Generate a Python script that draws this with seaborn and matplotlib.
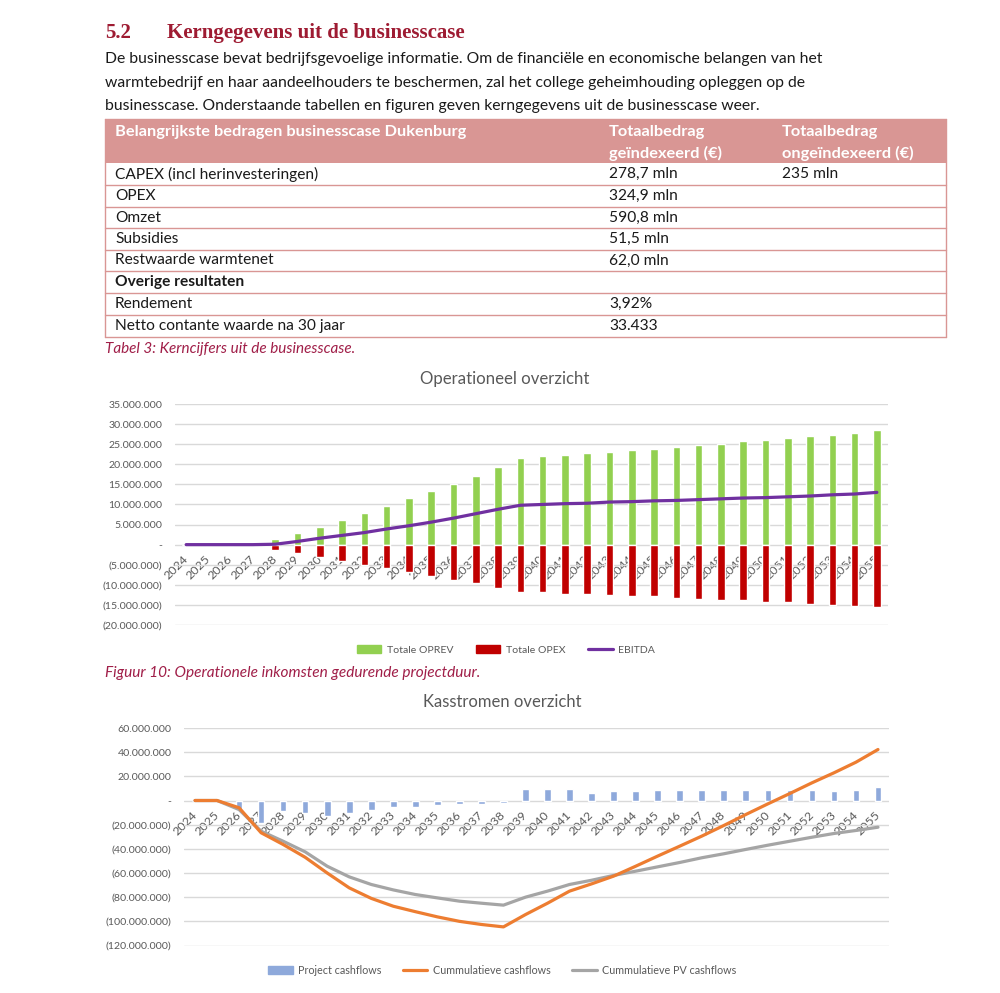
import numpy as np
import pandas as pd
import matplotlib
matplotlib.use("Agg")
import matplotlib.pyplot as plt
import seaborn as sns
from matplotlib.patches import Rectangle, Patch
from matplotlib.lines import Line2D
from matplotlib.ticker import FuncFormatter, MultipleLocator

# ---------------- data ----------------
years = [str(y) for y in range(2024, 2056)]

# Operationeel overzicht (mln euro)
oprev = [0, 0, 0, 0, 1.4, 2.9, 4.5, 6.2, 7.8, 9.6, 11.5, 13.3, 15.2, 17.2, 19.4,
         21.5, 22.0, 22.3, 22.75, 23.1, 23.5, 23.9, 24.25, 24.7, 25.1, 25.7, 26.1,
         26.5, 27.0, 27.4, 27.9, 28.5]
opex = [0, 0, 0, 0, -1.4, -2.2, -3.0, -4.0, -5.0, -5.9, -6.8, -7.75, -8.75, -9.6, -10.7,
        -11.7, -11.8, -12.2, -12.25, -12.5, -12.75, -12.9, -13.25, -13.5, -13.7, -13.9,
        -14.25, -14.4, -14.7, -15.0, -15.25, -15.5]
ebitda = [0, 0, 0, 0, 0.1, 0.8, 1.6, 2.3, 3.0, 3.9, 4.7, 5.6, 6.6, 7.7, 8.8,
          9.8, 10.0, 10.2, 10.3, 10.6, 10.7, 10.9, 11.0, 11.2, 11.4, 11.6, 11.7,
          11.9, 12.1, 12.4, 12.6, 13.0]

# Kasstromen overzicht (mln euro)
project_cf = [0, 0, -7.5, -18.5, -8.8, -10.5, -13.0, -10.2, -7.5, -5.2, -5.0, -4.1, -3.3, -2.5, -1.9,
              9.9, 9.9, 9.9, 5.8, 7.7, 7.7, 8.3, 8.3, 8.3, 8.3, 8.3, 8.3, 8.5, 8.8, 7.7, 8.8, 11.0]
cum_cf = [0, 0, -6.0, -26.7, -36.4, -47.0, -60.0, -72.3, -81.0, -87.5, -92.0, -96.3, -100.0, -102.6, -104.6,
          -94.4, -85.0, -75.0, -69.0, -62.6, -54.4, -46.0, -37.8, -29.5, -20.7, -11.6, -2.8,
          5.8, 14.6, 22.9, 31.7, 42.2]
cum_pv = [0, 0, -7.5, -25.4, -33.7, -42.5, -54.4, -63.2, -69.5, -74.0, -77.8, -80.6, -83.3, -85.0, -86.6,
          -80.0, -75.0, -69.5, -66.0, -62.0, -58.5, -54.9, -51.3, -47.4, -44.1, -40.5, -37.0,
          -33.7, -30.4, -27.3, -24.8, -22.1]

# Table
table_header = ["Belangrijkste bedragen businesscase Dukenburg",
                "Totaalbedrag\ngeïndexeerd (€)", "Totaalbedrag\nongeïndexeerd (€)"]
table_labels = ["CAPEX (incl herinvesteringen)", "OPEX", "Omzet", "Subsidies",
                "Restwaarde warmtenet", "Overige resultaten", "Rendement",
                "Netto contante waarde na 30 jaar"]
table_col2 = ["278,7 mln", "324,9 mln", "590,8 mln", "51,5 mln", "62,0 mln", "", "3,92%", "33.433"]
table_col3 = ["235 mln", "", "", "", "", "", "", ""]
table_bold = [False, False, False, False, False, True, False, False]

heading_num = "5.2"
heading_txt = "Kerngegevens uit de businesscase"
paragraph = [
    "De businesscase bevat bedrijfsgevoelige informatie. Om de financiële en economische belangen van het",
    "warmtebedrijf en haar aandeelhouders te beschermen, zal het college geheimhouding opleggen op de",
    "businesscase. Onderstaande tabellen en figuren geven kerngegevens uit de businesscase weer.",
]
caption_table = "Tabel 3: Kerncijfers uit de businesscase."
caption_fig10 = "Figuur 10: Operationele inkomsten gedurende projectduur."
title1 = "Operationeel overzicht"
title2 = "Kasstromen overzicht"
legend1 = ["Totale OPREV", "Totale OPEX", "EBITDA"]
legend2 = ["Project cashflows", "Cummulatieve cashflows", "Cummulatieve PV cashflows"]

# ---------------- style ----------------
sns.set_theme(style="white")
plt.rcParams["font.family"] = ["Lato", "DejaVu Sans"]

GREEN = "#92D050"
RED = "#C00000"
PURPLE = "#7030A0"
BLUE = "#8EA9DB"
ORANGE = "#ED7D31"
GREY = "#A5A5A5"
TXT = "#595959"
GRID = "#D9D9D9"
HEAD = "#9E1B32"
CAP = "#A01E48"
TBL = "#D99694"

W, H = 1000, 993
fig = plt.figure(figsize=(W / 100, H / 100), dpi=100)
fig.patch.set_facecolor("white")
renderer = fig.canvas.get_renderer()


def fy(y):
    return 1 - y / H


def txt(x, y, s, width=None, size=10, **kw):
    kw.setdefault("va", "center")
    t = fig.text(x / W, fy(y), s, fontsize=size, **kw)
    if width:
        w = t.get_window_extent(renderer).width
        t.set_fontsize(size * width / w)
    return t


# ---------------- heading + paragraph ----------------
h = txt(167, 33, heading_txt, width=298, size=15, family="Liberation Serif",
        weight="bold", color=HEAD)
txt(105, 33, heading_num, size=h.get_fontsize(), family="Liberation Serif",
    weight="bold", color=HEAD)

p = txt(105, 59, paragraph[0], width=717, size=11, color="#1A1A1A")
ps = p.get_fontsize()
for i, line in enumerate(paragraph[1:]):
    txt(105, 83 + 23.5 * i, line, size=ps, color="#1A1A1A")

# ---------------- table ----------------
tx0, tx1 = 105, 946
fig.patches.append(Rectangle((tx0 / W, fy(163)), (tx1 - tx0) / W, 44 / H,
                             transform=fig.transFigure, facecolor=TBL, edgecolor="none"))
hd = txt(115, 132, table_header[0], width=354, size=10, color="white", weight="bold")
hs = hd.get_fontsize()
for x, s in [(609, table_header[1]), (782, table_header[2])]:
    l1, l2 = s.split("\n")
    txt(x, 132, l1, size=hs, color="white", weight="bold")
    txt(x, 153, l2, size=hs, color="white", weight="bold")

row_edges = [163, 185, 207, 228, 250, 271, 293, 315, 337]
for y in row_edges[1:]:
    fig.lines.append(Line2D([tx0 / W, tx1 / W], [fy(y), fy(y)], transform=fig.transFigure,
                            color=TBL, lw=1))
for x in (tx0, tx1):
    fig.lines.append(Line2D([x / W, x / W], [fy(119), fy(337)], transform=fig.transFigure,
                            color=TBL, lw=1))
fig.lines.append(Line2D([tx0 / W, tx1 / W], [fy(119), fy(119)], transform=fig.transFigure,
                        color=TBL, lw=1))

b = txt(115, 174, table_labels[0], width=203, size=10, color="#1A1A1A")
bs = b.get_fontsize()
for i in range(len(table_labels)):
    yc = (row_edges[i] + row_edges[i + 1]) / 2
    if i > 0:
        txt(115, yc, table_labels[i], size=bs, color="#1A1A1A",
            weight="bold" if table_bold[i] else "normal")
    if table_col2[i]:
        txt(609, yc, table_col2[i], size=bs, color="#1A1A1A")
    if table_col3[i]:
        txt(782, yc, table_col3[i], size=bs, color="#1A1A1A")

txt(105, 349, caption_table, width=250, size=10, color=CAP, style="italic")

# ---------------- chart helpers ----------------
probe = fig.text(0, 0, "35.000.000", fontsize=8)
tick_fs = 8 * 54 / probe.get_window_extent(renderer).width
probe.remove()


def money(v, pos):
    if abs(v) < 1:
        return "-"
    s = f"{abs(v):,.0f}".replace(",", ".")
    return f"({s})" if v < 0 else s


def style_axes(ax, ymin, ymax, step):
    ax.set_ylim(ymin, ymax)
    ax.set_xlim(-0.5, len(years) - 0.5)
    ax.yaxis.set_major_locator(MultipleLocator(step))
    ax.yaxis.set_major_formatter(FuncFormatter(money))
    for s in ax.spines.values():
        s.set_visible(False)
    ax.spines["bottom"].set_position(("data", 0))
    ax.yaxis.grid(True, color=GRID, lw=1)
    ax.xaxis.grid(False)
    ax.set_axisbelow(True)
    ax.set_xlabel("")
    ax.set_ylabel("")
    ax.tick_params(axis="y", length=0, pad=9, labelsize=tick_fs, labelcolor=TXT)
    ax.tick_params(axis="x", length=0, pad=9, labelsize=tick_fs * 1.18, labelcolor=TXT)
    ax.set_xticks(range(len(years)))
    ax.set_xticklabels(years)
    for lab in ax.get_xticklabels():
        lab.set_rotation(45)
        lab.set_ha("right")
        lab.set_va("center")
        lab.set_rotation_mode("anchor")
    ax.patch.set_alpha(0)


# ---------------- chart 1 ----------------
df1 = pd.DataFrame({"jaar": years,
                    "oprev": np.array(oprev) * 1e6,
                    "opex": np.array(opex) * 1e6,
                    "ebitda": np.array(ebitda) * 1e6})
ax1 = fig.add_axes([175 / W, fy(625), 713 / W, 221 / H])
sns.barplot(data=df1, x="jaar", y="oprev", color=GREEN, saturation=1, width=0.34, ax=ax1)
sns.barplot(data=df1, x="jaar", y="opex", color=RED, saturation=1, width=0.34, ax=ax1)
sns.pointplot(data=df1, x="jaar", y="ebitda", color=PURPLE, markers="", errorbar=None,
              linewidth=2.3, ax=ax1, zorder=5)
style_axes(ax1, -20e6, 35e6, 5e6)

txt(504.5, 379, title1, width=169, size=12, color=TXT, ha="center")
fig.legend([Patch(color=GREEN), Patch(color=RED), Line2D([], [], color=PURPLE, lw=2.3)],
           legend1, loc="center", bbox_to_anchor=(506 / W, fy(650)), ncol=3, frameon=False,
           fontsize=tick_fs * 1.0, labelcolor=TXT, handlelength=2.3, handleheight=0.75,
           columnspacing=2.2, handletextpad=0.5)

txt(105, 673, caption_fig10, width=375, size=10, color=CAP, style="italic")

# ---------------- chart 2 ----------------
df2 = pd.DataFrame({"jaar": years,
                    "cf": np.array(project_cf) * 1e6,
                    "cum": np.array(cum_cf) * 1e6,
                    "pv": np.array(cum_pv) * 1e6})
ax2 = fig.add_axes([184 / W, fy(945.5), 705 / W, 217.5 / H])
sns.barplot(data=df2, x="jaar", y="cf", color=BLUE, saturation=1, width=0.30, ax=ax2)
sns.pointplot(data=df2, x="jaar", y="pv", color=GREY, markers="", errorbar=None,
              linewidth=2.3, ax=ax2, zorder=5)
sns.pointplot(data=df2, x="jaar", y="cum", color=ORANGE, markers="", errorbar=None,
              linewidth=2.3, ax=ax2, zorder=6)
style_axes(ax2, -120e6, 60e6, 20e6)

txt(502, 702, title2, width=158, size=12, color=TXT, ha="center")
fig.legend([Patch(color=BLUE), Line2D([], [], color=ORANGE, lw=2.3),
            Line2D([], [], color=GREY, lw=2.3)],
           legend2, loc="center", bbox_to_anchor=(502 / W, fy(970)), ncol=3, frameon=False,
           fontsize=tick_fs * 1.02, labelcolor=TXT, handlelength=2.3, handleheight=0.75,
           columnspacing=2.0, handletextpad=0.5)

fig.savefig("out.png", dpi=100, facecolor="white")
